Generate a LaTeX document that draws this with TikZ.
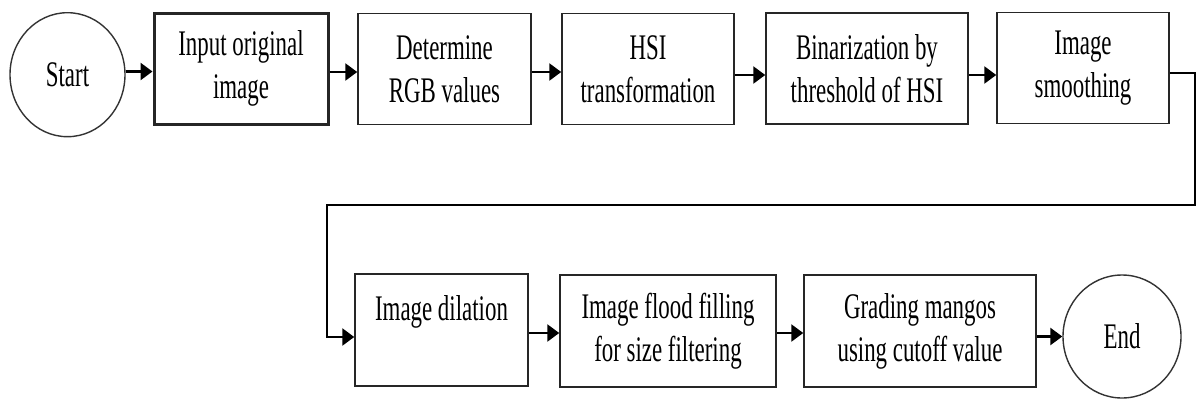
\documentclass[tikz,border=0pt]{standalone}
\usepackage{fontspec}
\setmainfont[FakeStretch=0.636]{Liberation Serif}
\usetikzlibrary{arrows.meta,shapes.geometric}

\tikzset{
  stage/.style={draw=black!85, line width=1.5pt, rectangle, inner sep=0pt,
    minimum height=111pt, align=center,
    font={\fontsize{36}{43}\selectfont}},
  terminal/.style={draw=black!80, line width=1.4pt, ellipse, inner sep=0pt,
    minimum height=124pt, font={\fontsize{36}{43}\selectfont}},
  flow/.style={line width=2.6pt, -{Triangle[length=12pt,width=17pt]}},
}

\begin{document}
\begin{tikzpicture}[x=1pt,y=-1pt]
\useasboundingbox (0,0) rectangle (1197,399);

% upper row
\node[terminal, minimum width=115pt] (start) at (67.5,74.7) {Start};
\node[stage, minimum width=174pt, line width=3pt] (b1) at (241,68.5) {Input original\\image};
\node[stage, minimum width=173pt] (b2) at (444.5,69) {Determine\\RGB values};
\node[stage, minimum width=172pt] (b3) at (648,69) {HSI\\transformation};
\node[stage, minimum width=202pt] (b4) at (867,68.5) {Binarization by\\threshold of HSI};
\node[stage, minimum width=172pt] (b5) at (1083,68) {Image\\smoothing};

% lower row
\node[stage, minimum width=173pt, minimum height=112pt] (b6) at (441.5,330) {Image dilation\\\mbox{}};
\node[stage, minimum width=216pt, minimum height=112pt] (b7) at (668,331) {Image flood filling\\for size filtering};
\node[stage, minimum width=232pt, minimum height=112pt] (b8) at (920,331) {Grading mangos\\using cutoff value};
\node[terminal, minimum width=118pt, minimum height=123pt] (end) at (1122,336.5) {End};

% turning points of the return line
\coordinate (r1) at (1195,205);
\coordinate (l1) at (327,205);

% connectors
\draw[flow] ([yshift=-3pt]b1.west -| start.east) -- ([yshift=-3pt]b1.west);
\draw[flow] ([yshift=-3.5pt]b1.east) -- ([yshift=-3pt]b2.west);
\draw[flow] ([yshift=-3pt]b2.east) -- ([yshift=-3pt]b3.west);
\draw[flow] ([yshift=-6pt]b3.east) -- ([yshift=-6.5pt]b4.west);
\draw[flow] ([yshift=-6.5pt]b4.east) -- ([yshift=-7pt]b5.west);
\draw[flow] ([yshift=-5pt]b5.east) -| (r1) -- (l1) |- ([yshift=-7pt]b6.west);
\draw[flow] ([yshift=-3pt]b6.east) -- ([yshift=-2pt]b7.west);
\draw[flow] ([yshift=-2pt]b7.east) -- ([yshift=-2pt]b8.west);
\draw[flow] (b8.east |- end.west) -- (end.west);
\end{tikzpicture}
\end{document}
